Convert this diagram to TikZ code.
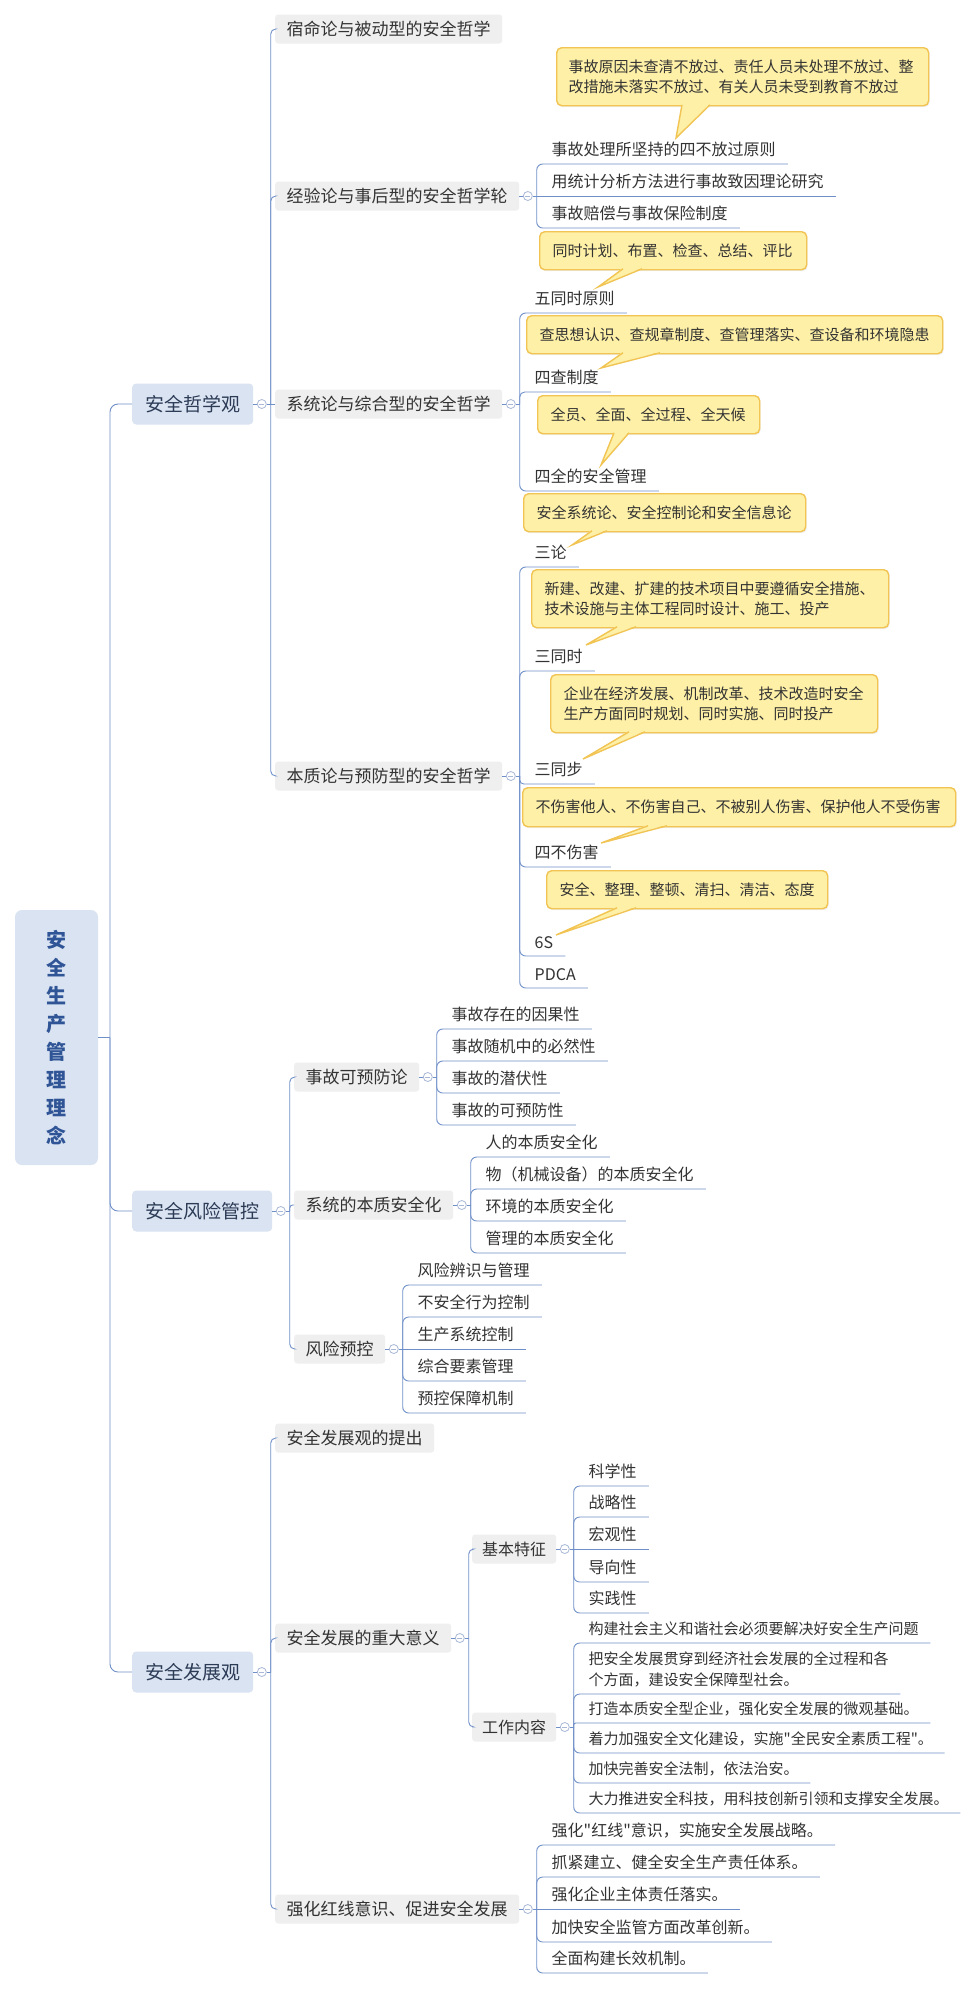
\documentclass[tikz,border=0pt]{standalone}
\usepackage{fontspec}
\setmainfont{Noto Sans CJK SC}[Ligatures=TeXOff]
\usetikzlibrary{positioning,calc,shadows}
\definecolor{linec}{HTML}{6F8FC8}
\definecolor{togc}{HTML}{A8B8D6}
\definecolor{bluefill}{HTML}{DAE3F1}
\definecolor{grayfill}{HTML}{EFEFEF}
\definecolor{calfill}{HTML}{FEF0A6}
\definecolor{calline}{HTML}{F1C453}
\definecolor{rootc}{HTML}{2F5597}
\definecolor{lonec}{HTML}{2B3A55}
\definecolor{txt}{HTML}{333333}
\newcommand\lnk[3][6pt]{\draw[conn=#1] (#2) -- (#2 |- #3.south) -- (#3.south east);}
\newcommand\blnk[3][5pt]{\draw[conn=#1] (#2) -- (#2 |- #3.west) -- (#3.west);}
\newcommand\calltail[5]{%
  \fill[calfill] (#2,#1-1.3) -- (#3,#1-1.3) -- (#4,#5) -- cycle;
  \draw[calline, line width=1.4pt, line join=miter] (#2,#1-0.2) -- (#4,#5) -- (#3,#1-0.2);}
\begin{document}
\begin{tikzpicture}[x=1pt,y=-1pt,
  conn/.style={draw=linec, line width=0.9pt, rounded corners=#1},
  conn/.default=6pt,
  rootbox/.style={fill=bluefill, rounded corners=7pt, minimum width=83pt, minimum height=255pt,
    font=\fontsize{20pt}{28pt}\selectfont\bfseries, text=rootc, align=center, inner sep=0pt},
  lone/.style={fill=bluefill, rounded corners=4pt, inner xsep=13pt, inner ysep=0pt, minimum height=41pt,
    font=\fontsize{19pt}{22pt}\selectfont, text=lonec, anchor=west},
  ltwo/.style={fill=grayfill, rounded corners=3pt, inner xsep=11.5pt, inner ysep=0pt, minimum height=29pt,
    font=\fontsize{17pt}{20pt}\selectfont, text=txt, anchor=west},
  lthree/.style={ltwo, inner xsep=10pt, font=\fontsize{16pt}{20pt}\selectfont},
  leaf/.style={inner xsep=12pt, inner ysep=7pt, anchor=south west, font=\fontsize{16pt}{21pt}\selectfont, text=txt, align=left},
  leafs/.style={leaf, inner xsep=11.5pt, font=\fontsize{15pt}{21pt}\selectfont},
  callout/.style={fill=calfill, draw=calline, line width=1.4pt, rounded corners=5pt,
    drop shadow={shadow xshift=1pt, shadow yshift=-1.5pt, opacity=0.12},
    font=\fontsize{15pt}{20pt}\selectfont, text=txt, align=left, anchor=north west, inner ysep=0pt},
  tog/.style={circle, draw=togc, fill=white, line width=0.8pt, minimum size=9pt, inner sep=0pt,
    path picture={\draw[togc, line width=0.8pt] ([xshift=-2.5pt]path picture bounding box.center) -- ([xshift=2.5pt]path picture bounding box.center);}}
]
\fill[white] (0,0) rectangle (977,1989);
\useasboundingbox (0,0) rectangle (977,1989);

% ---------- root ----------
\node[rootbox] (root) at (56.5,1037.5) {安\\全\\生\\产\\管\\理\\理\\念};

% ---------- level 1 ----------
\node[lone] (A) at (132,404) {安全哲学观};
\node[lone] (B) at (132,1211) {安全风险管控};
\node[lone] (C) at (132,1672) {安全发展观};
\coordinate (v0) at (110,1037.5);
\draw[conn] (root.east) -- (v0);
\blnk[8pt]{v0}{A}
\blnk[8pt]{v0}{B}
\blnk[8pt]{v0}{C}

% ---------- 安全哲学观 ----------
\node[tog, right=3.5pt of A] (tA) {};
\coordinate (vA) at ($(tA.east)+(4,0)$);
\draw[conn] (A.east) -- (tA.west) (tA.east) -- (vA);
\node[ltwo] (g1) at (275,29) {宿命论与被动型的安全哲学};
\node[ltwo] (g2) at (275,196) {经验论与事后型的安全哲学轮};
\node[ltwo] (g3) at (275,404) {系统论与综合型的安全哲学};
\node[ltwo] (g4) at (275,776) {本质论与预防型的安全哲学};
\blnk{vA}{g1}
\blnk{vA}{g2}
\draw[conn] (vA) -- (g3.west);
\blnk{vA}{g4}

% 经验论
\node[tog, right=3.5pt of g2] (t2) {};
\coordinate (v2) at ($(t2.east)+(4,0)$);
\draw[conn] (g2.east) -- (t2.west) (t2.east) -- (v2);
\node[leaf] (a1) at (539.5,164) {事故处理所坚持的四不放过原则};
\node[leaf] (a2) at (539.5,196) {用统计分析方法进行事故致因理论研究};
\node[leaf] (a3) at (539.5,228) {事故赔偿与事故保险制度};
\lnk{v2}{a1}
\draw[conn] (v2) -- (a2.south east);
\lnk{v2}{a3}

% 系统论
\node[tog, right=3.5pt of g3] (t3) {};
\coordinate (v3) at ($(t3.east)+(4,0)$);
\draw[conn] (g3.east) -- (t3.west) (t3.east) -- (v3);
\node[leaf] (b1) at (522.5,313) {五同时原则};
\node[leaf] (b2) at (522.5,392) {四查制度};
\node[leaf] (b3) at (522.5,491) {四全的安全管理};
\lnk{v3}{b1}
\lnk[5pt]{v3}{b2}
\lnk{v3}{b3}

% 本质论
\node[tog, right=3.5pt of g4] (t4) {};
\coordinate (v4) at ($(t4.east)+(4,0)$);
\draw[conn] (g4.east) -- (t4.west) (t4.east) -- (v4);
\node[leaf] (c1) at (522.5,567) {三论};
\node[leaf] (c2) at (522.5,671) {三同时};
\node[leaf] (c3) at (522.5,784) {三同步};
\node[leaf] (c4) at (522.5,867) {四不伤害};
\node[leaf] (c5) at (522.5,956) {6S};
\node[leaf] (c6) at (522.5,988) {PDCA};
\lnk{v4}{c1}
\lnk{v4}{c2}
\lnk[4pt]{v4}{c3}
\lnk{v4}{c4}
\lnk{v4}{c5}
\lnk{v4}{c6}

% ---------- callouts ----------
\node[callout, inner xsep=12pt, text width=348pt, minimum height=58pt] (k1) at (556,47)
  {事故原因未查清不放过、责任人员未处理不放过、整\\改措施未落实不放过、有关人员未受到教育不放过};
\calltail{105}{682}{710}{676}{138}
\node[callout, inner xsep=13pt, text width=241pt, minimum height=38pt] (k2) at (539,231)
  {同时计划、布置、检查、总结、评比};
\calltail{269}{623}{642}{598}{287}
\node[callout, inner xsep=13pt, text width=390pt, minimum height=38pt] (k3) at (526,315)
  {查思想认识、查规章制度、查管理落实、查设备和环境隐患};
\calltail{353}{623}{660}{601}{368}
\node[callout, inner xsep=13pt, text width=196pt, minimum height=38pt] (k4) at (537,395)
  {全员、全面、全过程、全天候};
\calltail{433}{614}{629}{601}{465}
\node[callout, inner xsep=13pt, text width=256pt, minimum height=38pt] (k5) at (523,493)
  {安全系统论、安全控制论和安全信息论};
\calltail{531}{592}{607}{572}{545}
\node[callout, inner xsep=13pt, text width=331pt, minimum height=58pt] (k6) at (531,569)
  {新建、改建、扩建的技术项目中要遵循安全措施、\\技术设施与主体工程同时设计、施工、投产};
\calltail{627}{617}{636}{586}{645}
\node[callout, inner xsep=13pt, text width=301pt, minimum height=58pt] (k7) at (550,674)
  {企业在经济发展、机制改革、技术改造时安全\\生产方面同时规划、同时实施、同时投产};
\calltail{732}{629}{645}{583}{759}
\node[callout, inner xsep=13pt, text width=407pt, minimum height=39pt] (k8) at (522,787)
  {不伤害他人、不伤害自己、不被别人伤害、保护他人不受伤害};
\calltail{826}{648}{667}{601}{843}
\node[callout, inner xsep=13pt, text width=255pt, minimum height=38pt] (k9) at (546,870)
  {安全、整理、整顿、清扫、清洁、态度};
\calltail{908}{617}{636}{556}{935}

% ---------- 安全风险管控 ----------
\node[tog, right=3.5pt of B] (tB) {};
\coordinate (vB) at ($(tB.east)+(4,0)$);
\draw[conn] (B.east) -- (tB.west) (tB.east) -- (vB);
\node[ltwo] (g5) at (294,1077) {事故可预防论};
\node[ltwo] (g6) at (294,1205) {系统的本质安全化};
\node[ltwo] (g7) at (294,1349) {风险预控};
\blnk{vB}{g5}
\blnk[3pt]{vB}{g6}
\blnk{vB}{g7}

\node[tog, right=3.5pt of g5] (t5) {};
\coordinate (v5) at ($(t5.east)+(4,0)$);
\draw[conn] (g5.east) -- (t5.west) (t5.east) -- (v5);
\node[leaf] (d1) at (439.5,1029) {事故存在的因果性};
\node[leaf] (d2) at (439.5,1061) {事故随机中的必然性};
\node[leaf] (d3) at (439.5,1093) {事故的潜伏性};
\node[leaf] (d4) at (439.5,1125) {事故的可预防性};
\lnk{v5}{d1}
\lnk{v5}{d2}
\lnk{v5}{d3}
\lnk{v5}{d4}

\node[tog, right=3.5pt of g6] (t6) {};
\coordinate (v6) at ($(t6.east)+(4,0)$);
\draw[conn] (g6.east) -- (t6.west) (t6.east) -- (v6);
\node[leaf] (e1) at (473.5,1157) {人的本质安全化};
\node[leaf] (e2) at (473.5,1189) {物（机械设备）的本质安全化};
\node[leaf] (e3) at (473.5,1221) {环境的本质安全化};
\node[leaf] (e4) at (473.5,1253) {管理的本质安全化};
\lnk{v6}{e1}
\lnk{v6}{e2}
\lnk{v6}{e3}
\lnk{v6}{e4}

\node[tog, right=3.5pt of g7] (t7) {};
\coordinate (v7) at ($(t7.east)+(4,0)$);
\draw[conn] (g7.east) -- (t7.west) (t7.east) -- (v7);
\node[leaf] (f1) at (405.5,1285) {风险辨识与管理};
\node[leaf] (f2) at (405.5,1317) {不安全行为控制};
\node[leaf] (f3) at (405.5,1349) {生产系统控制};
\node[leaf] (f4) at (405.5,1381) {综合要素管理};
\node[leaf] (f5) at (405.5,1413) {预控保障机制};
\lnk{v7}{f1}
\lnk{v7}{f2}
\draw[conn] (v7) -- (f3.south east);
\lnk{v7}{f4}
\lnk{v7}{f5}

% ---------- 安全发展观 ----------
\node[tog, right=3.5pt of C] (tC) {};
\coordinate (vC) at ($(tC.east)+(4,0)$);
\draw[conn] (C.east) -- (tC.west) (tC.east) -- (vC);
\node[ltwo] (g8) at (275,1438) {安全发展观的提出};
\node[ltwo] (g9) at (275,1638) {安全发展的重大意义};
\node[ltwo] (g10) at (275,1909) {强化红线意识、促进安全发展};
\blnk{vC}{g8}
\blnk{vC}{g9}
\blnk{vC}{g10}

\node[tog, right=3.5pt of g9] (t9) {};
\coordinate (v9) at ($(t9.east)+(4,0)$);
\draw[conn] (g9.east) -- (t9.west) (t9.east) -- (v9);
\node[lthree] (g11) at (472,1549) {基本特征};
\node[lthree] (g12) at (472,1727) {工作内容};
\blnk{v9}{g11}
\blnk{v9}{g12}

\node[tog, right=3.5pt of g11] (t11) {};
\coordinate (v11) at ($(t11.east)+(4,0)$);
\draw[conn] (g11.east) -- (t11.west) (t11.east) -- (v11);
\node[leaf] (h1) at (576.5,1486) {科学性};
\node[leaf] (h2) at (576.5,1517) {战略性};
\node[leaf] (h3) at (576.5,1549) {宏观性};
\node[leaf] (h4) at (576.5,1582) {导向性};
\node[leaf] (h5) at (576.5,1613) {实践性};
\lnk{v11}{h1}
\lnk{v11}{h2}
\draw[conn] (v11) -- (h3.south east);
\lnk{v11}{h4}
\lnk{v11}{h5}

\node[tog, right=3.5pt of g12] (t12) {};
\coordinate (v12) at ($(t12.east)+(4,0)$);
\draw[conn] (g12.east) -- (t12.west) (t12.east) -- (v12);
\node[leafs] (i1) at (577,1643) {构建社会主义和谐社会必须要解决好安全生产问题};
\node[leafs] (i2) at (577,1694) {把安全发展贯穿到经济社会发展的全过程和各\\个方面，建设安全保障型社会。};
\node[leafs] (i3) at (577,1723) {打造本质安全型企业，强化安全发展的微观基础。};
\node[leafs] (i4) at (577,1753) {着力加强安全文化建设，实施"全民安全素质工程"。};
\node[leafs] (i5) at (577,1783) {加快完善安全法制，依法治安。};
\node[leafs] (i6) at (577,1813) {大力推进安全科技，用科技创新引领和支撑安全发展。};
\lnk{v12}{i1}
\lnk{v12}{i2}
\lnk[2pt]{v12}{i3}
\lnk{v12}{i4}
\lnk{v12}{i5}
\lnk{v12}{i6}

\node[tog, right=3.5pt of g10] (t10) {};
\coordinate (v10) at ($(t10.east)+(4,0)$);
\draw[conn] (g10.east) -- (t10.west) (t10.east) -- (v10);
\node[leaf] (j1) at (539.5,1845) {强化"红线"意识，实施安全发展战略。};
\node[leaf] (j2) at (539.5,1877) {抓紧建立、健全安全生产责任体系。};
\node[leaf] (j3) at (539.5,1909) {强化企业主体责任落实。};
\node[leaf] (j4) at (539.5,1942) {加快安全监管方面改革创新。};
\node[leaf] (j5) at (539.5,1973) {全面构建长效机制。};
\lnk{v10}{j1}
\lnk{v10}{j2}
\draw[conn] (v10) -- (j3.south east);
\lnk{v10}{j4}
\lnk{v10}{j5}
\end{tikzpicture}
\end{document}
